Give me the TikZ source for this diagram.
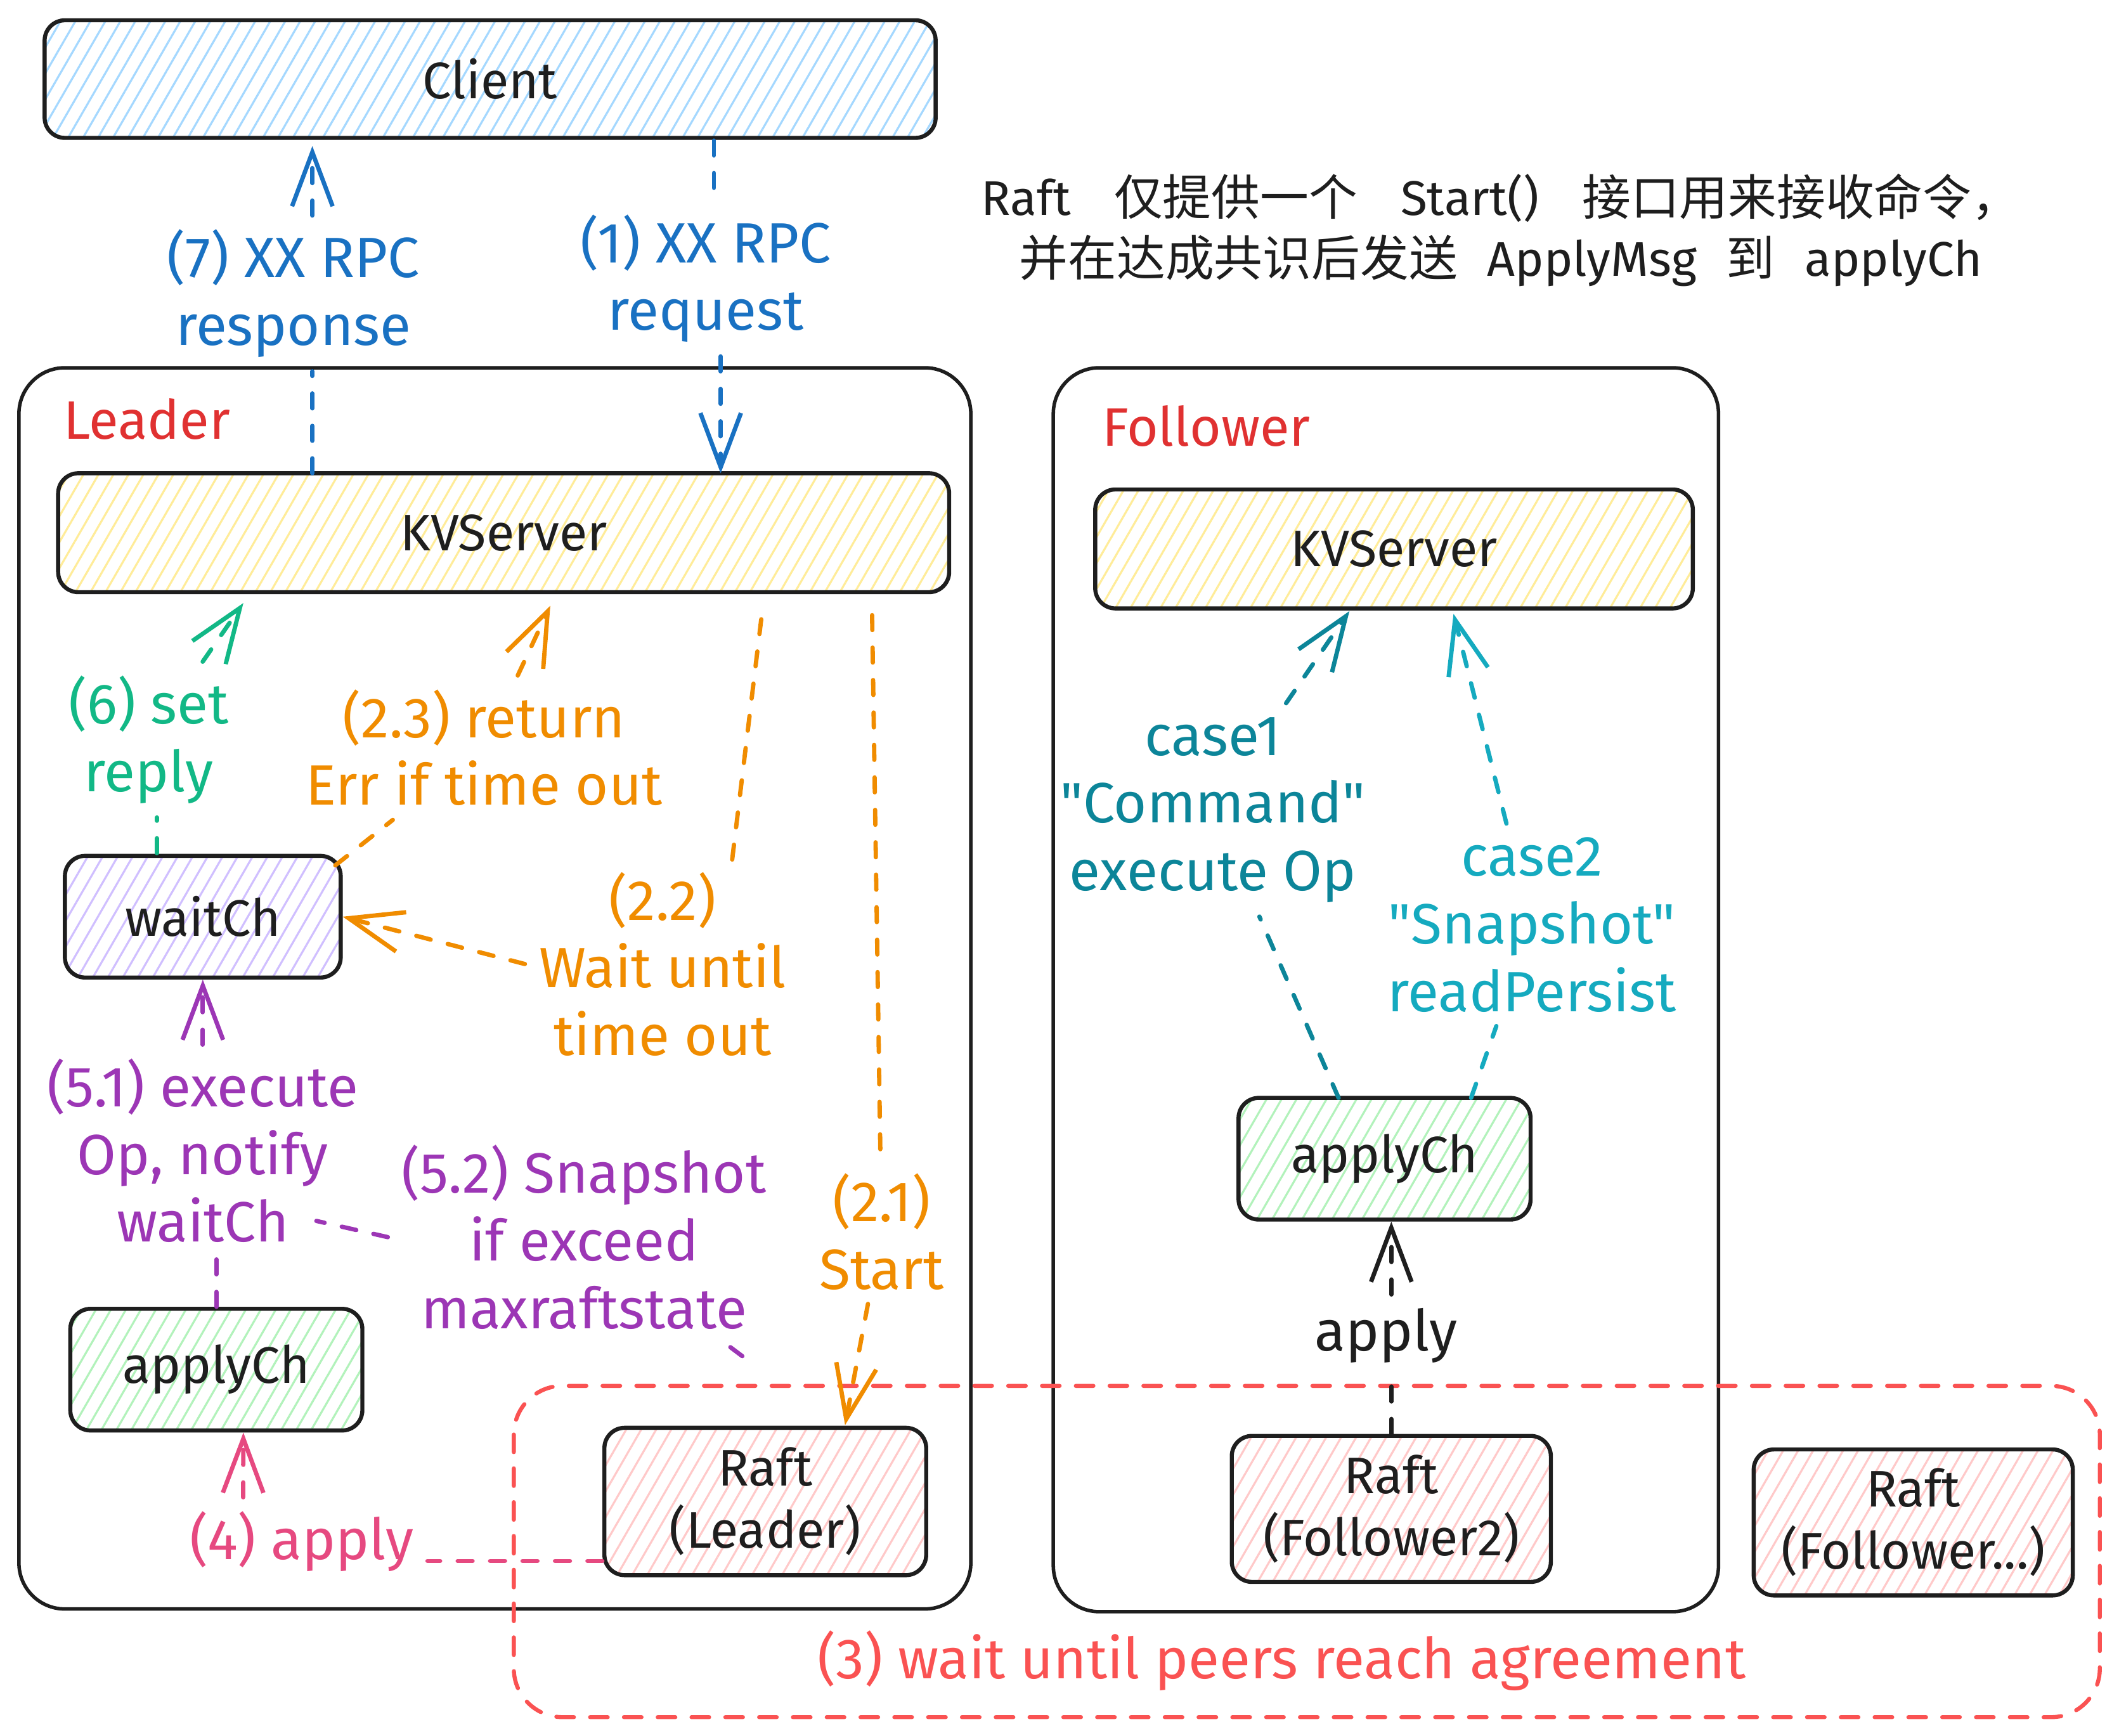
\documentclass[tikz,border=0pt]{standalone}
\usepackage{fontspec}
\setmainfont{Fira Sans}
\newfontfamily\cjk{Noto Sans CJK SC}
\newfontfamily\plainq{Fira Sans}[Ligatures=TeXOff]
\usetikzlibrary{arrows.meta,patterns.meta}
\definecolor{ink}{HTML}{1E1E1E}
\definecolor{cBlue}{HTML}{1971C2}
\definecolor{cGreen}{HTML}{12B886}
\definecolor{cOrange}{HTML}{F08C00}
\definecolor{cPurple}{HTML}{9C36B5}
\definecolor{cPink}{HTML}{E64980}
\definecolor{cTeal}{HTML}{0C8599}
\definecolor{cCyan}{HTML}{15AABF}
\definecolor{cRed}{HTML}{E03131}
\definecolor{cAgree}{HTML}{FA5252}
\definecolor{fClient}{HTML}{A5D8FF}
\definecolor{fKV}{HTML}{FFEC99}
\definecolor{fWait}{HTML}{D0BFFF}
\definecolor{fApply}{HTML}{B2F2BB}
\definecolor{fRaft}{HTML}{FFC9C9}
\begin{document}
\begin{tikzpicture}[x=0.5pt,y=-0.5pt,
	box/.style={draw=ink, line width=1.5pt, rounded corners=7.5pt, inner sep=0pt, align=center, text=ink, font=\fontsize{19}{23}\selectfont},
	hatch/.style={pattern={Lines[angle=60,distance=4.8pt,line width=0.75pt]}, pattern color=#1},
	frame/.style={draw=ink, line width=1.3pt, rounded corners=17pt},
	conn/.style={line width=1.6pt, dash pattern=on 5.5pt off 6.5pt, line cap=round},
	barb/.style={-{Straight Barb[length=20pt,width=15pt]}},
	lbl/.style={font=\fontsize{21}{25}\selectfont, align=center, inner sep=5pt},
	agree/.style={draw=cAgree, line width=1.5pt, dash pattern=on 6.5pt off 6pt, line cap=round, rounded corners=18pt}]
	\useasboundingbox (0,0) rectangle (1567.2,1283.5);
	
	% containers
	\draw[frame] (14,272) rectangle (718,1190);
	\draw[frame] (779,272) rectangle (1271,1192);
	\node[anchor=west, text=cRed, font=\fontsize{20}{24}\selectfont] (leader) at (40,310) {Leader};
	\node[anchor=west, text=cRed, font=\fontsize{20}{24}\selectfont] (follower) at (808,315) {Follower};
	
	% boxes
	\node[box, hatch=fClient, minimum width=329.5pt, minimum height=43.5pt] (client) at (362.5,58.5) {Client};
	\node[box, hatch=fKV, minimum width=329.5pt, minimum height=44pt] (kvL) at (372.5,394) {KVServer};
	\node[box, hatch=fKV, minimum width=221pt, minimum height=44pt] (kvF) at (1031,406) {KVServer};
	\node[box, hatch=fWait, minimum width=102pt, minimum height=45pt] (wait) at (150,678) {waitCh};
	\node[box, hatch=fApply, minimum width=108pt, minimum height=45pt] (apL) at (160,1013) {applyCh};
	\node[box, hatch=fRaft, minimum width=119pt, minimum height=54.5pt] (raftL) at (566,1110.5) {Raft\\(Leader)};
	\node[box, hatch=fApply, minimum width=108pt, minimum height=45pt] (apF) at (1024,857) {applyCh};
	\node[box, hatch=fRaft, minimum width=118pt, minimum height=54pt] (raftF) at (1029,1116) {Raft\\(Follower2)};
	\node[box, hatch=fRaft, minimum width=118pt, minimum height=54pt] (raftO) at (1415,1126) {Raft\\(Follower...)};
	
	\draw[agree] (380,1025) rectangle (1553,1270);
	
	% note
	\node[text=ink, align=center, font=\fontsize{18}{22.5}\selectfont] (note) at (1110,170)
		{Raft\hspace{16pt}{\cjk 仅提供一个}\hspace{16pt}Start()\hspace{16pt}{\cjk 接口用来接收命令，}\\
		{\cjk 并在达成共识后发送}\hspace{11pt}ApplyMsg\hspace{11pt}{\cjk 到}\hspace{11pt}applyCh};
	
	% labels
	\node[lbl, text=cBlue] (lab7) at (217,217) {(7) XX RPC\\response};
	\node[lbl, text=cBlue] (lab1) at (522,206) {(1) XX RPC\\request};
	\node[lbl, text=cGreen] (lab6) at (110,547) {(6) set\\reply};
	\node[lbl, text=cOrange] (lab23) at (358,553) {(2.3) return\\Err if time out};
	\node[lbl, text=cOrange] (lab22) at (490,713) {(2.2)\\Wait until\\time out};
	\node[lbl, text=cOrange] (lab21) at (652,911) {(2.1)\\Start};
	\node[lbl, text=cPurple] (lab51) at (150,851) {(5.1) execute\\Op, notify\\waitCh};
	\node[lbl, text=cPurple] (lab52) at (432,915) {(5.2) Snapshot\\if exceed\\maxraftstate};
	\node[lbl, text=cPink] (lab4) at (223,1140) {(4) apply};
	\node[lbl, text=cTeal] (labc1) at (897,599) {case1\\{\plainq "Command"}\\execute Op};
	\node[lbl, text=cCyan] (labc2) at (1133,684) {case2\\{\plainq "Snapshot"}\\readPersist};
	\node[lbl, text=ink] (labap) at (1025,988) {apply};
	\node[lbl, text=cAgree] (lab3) at (948,1228) {(3) wait until peers reach agreement};
	
	% client <-> leader
	\coordinate (k7) at (231,350);
	\coordinate (c7) at (231,108);
	\draw[conn, cBlue] (k7) -- (lab7.south -| k7);
	\draw[conn, cBlue, barb] (lab7.north -| k7) -- (c7);
	\coordinate (c1) at (528,104);
	\coordinate (k1) at (533,350);
	\draw[conn, cBlue] (c1) -- (lab1.north -| c1);
	\draw[conn, cBlue, barb] (lab1.south -| k1) -- (k1);
	
	% leader inside
	\coordinate (w6) at (116,631);
	\coordinate (k6) at (180,446);
	\draw[conn, cGreen] (w6) -- (lab6.south -| w6);
	\draw[conn, cGreen, barb] (lab6) -- (k6);
	\coordinate (w23) at (248,640);
	\coordinate (k23) at (407,448);
	\draw[conn, cOrange] (w23) -- (lab23);
	\draw[conn, cOrange, barb] (lab23) -- (k23);
	\coordinate (k22) at (563,458);
	\coordinate (t22) at (541,640);
	\draw[conn, cOrange] (k22) -- (t22);
	\draw[conn, cOrange, barb] (lab22.west) -- (wait.east);
	\coordinate (k21) at (645,455);
	\coordinate (r21) at (625,1054);
	\draw[conn, cOrange] (k21) -- (lab21);
	\draw[conn, cOrange, barb] (lab21) -- (r21);
	\draw[conn, cPurple] (apL.north) -- (lab51.south -| apL.north);
	\draw[conn, cPurple, barb] (lab51.north -| wait.south) -- (wait.south);
	\coordinate (p52) at (549,1003);
	\coordinate (q52) at (234,903);
	\draw[conn, cPurple] (p52) -- (lab52);
	\draw[conn, cPurple] (lab52.west) -- (q52);
	\coordinate (r4) at ([yshift=6pt]raftL.south west);
	\draw[conn, cPink] (r4) -- (r4 -| lab4.east);
	\draw[conn, cPink, barb] ([xshift=25pt]lab4.north west) -- ([xshift=10pt]apL.south);
	
	% follower inside
	\coordinate (a1) at (990,812);
	\coordinate (k1f) at (998,452);
	\draw[conn, cTeal] (a1) -- (labc1);
	\draw[conn, cTeal, barb] (labc1) -- (k1f);
	\coordinate (a2) at (1088,812);
	\coordinate (k2f) at (1075,454);
	\draw[conn, cCyan] (a2) -- (labc2);
	\draw[conn, cCyan, barb] (labc2) -- (k2f);
	\draw[conn, ink] (raftF.north) -- (labap.south -| raftF.north);
	\draw[conn, ink, barb] (labap.north -| raftF.north) -- (apF.south -| raftF.north);
\end{tikzpicture}
\end{document}
